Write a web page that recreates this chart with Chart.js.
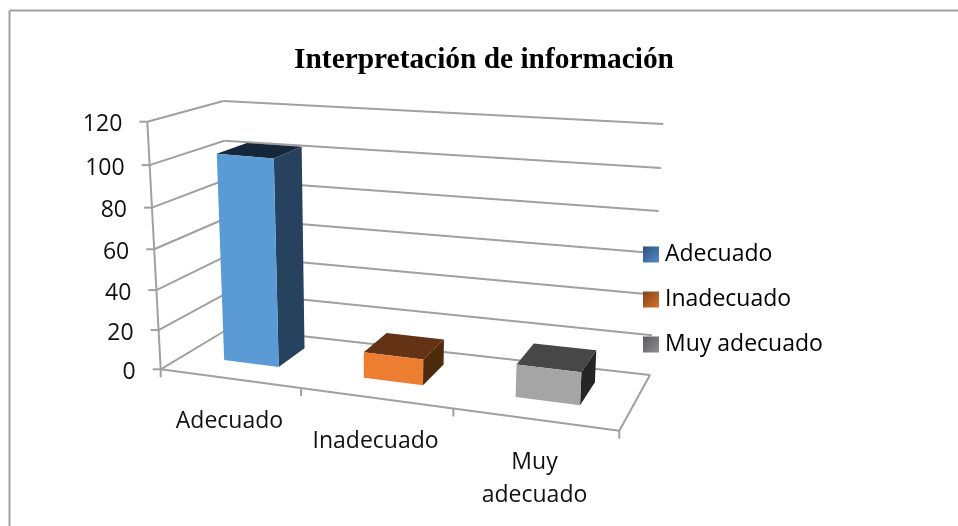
<!DOCTYPE html>
<html>
<head>
<meta charset="utf-8">
<script src="https://cdn.jsdelivr.net/npm/chart.js@4"></script>
<style>
    html, body { margin: 0; padding: 0; background: #fff; }
    canvas { display: block; }
</style>
</head>
<body>
<canvas id="chart3d" width="958" height="526"></canvas>
<script>
// Values
var categories = ["Adecuado", "Inadecuado", ["Muy", "adecuado"]];
var legendNames = ["Adecuado", "Inadecuado", "Muy adecuado"];
var values = [103, 13, 16];
var yTicksMax = 120;
var yTicksStep = 20;
var chartTitle = "Interpretación de información";

// Bar colours: front, side, top, and legend gradient ends
var frontColors = ["#5b9bd5", "#ed7d31", "#a5a5a5"];
var sideColors = ["#27425f", "#4f2b0e", "#252525"];
var topColors = ["#15273a", "#643214", "#474747"];
var legendDark = ["#2b4f78", "#7f4219", "#55555c"];
var legendLight = ["#4f88c4", "#d0702c", "#8d8d92"];
var legendBoxY = [246, 291, 336];
var legendBoxX = 642;

// The 3D box as seen on screen (front/back, left/right, bottom/top)
var view = {
    flb: [160.7, 369.3], frb: [619.3, 430.7], blb: [229.5, 328], brb: [650, 375],
    flt: [147.3, 121.7], frt: [633, 162], blt: [223.3, 101], brt: [663.3, 124]
};
var widthWarp = 1.134;   // foreshortening along the floor
var heightWarp = 1.063;  // foreshortening going up
var barDepthFront = 0.345;
var barDepthBack = 0.77;
var gridColor = "#a0a0a0";
var textFont = '23px "Open Sans"';
var textColor = "#111";

function warp(t, k) {
    return t / (t + k * (1 - t));
}

// u across, v up, w into the picture, all 0..1
function project(u, v, w) {
    var s = warp(u, widthWarp);
    var h = warp(v, heightWarp);
    var out = [];
    for (var i = 0; i < 2; i++) {
        var bottom = (view.flb[i] * (1 - s) + view.frb[i] * s) * (1 - w) + (view.blb[i] * (1 - s) + view.brb[i] * s) * w;
        var top = (view.flt[i] * (1 - s) + view.frt[i] * s) * (1 - w) + (view.blt[i] * (1 - s) + view.brt[i] * s) * w;
        out.push(bottom * (1 - h) + top * h);
    }
    return out;
}

function poly(ctx, points, color) {
    ctx.beginPath();
    ctx.moveTo(points[0][0], points[0][1]);
    for (var i = 1; i < points.length; i++) {
        ctx.lineTo(points[i][0], points[i][1]);
    }
    ctx.closePath();
    ctx.fillStyle = color;
    ctx.fill();
}

function line(ctx, a, b) {
    ctx.beginPath();
    ctx.moveTo(a[0], a[1]);
    ctx.lineTo(b[0], b[1]);
    ctx.stroke();
}

var box3d = {
    id: "box3d",
    // title centres on the whole picture, legend sits beside the walls
    afterLayout: function (chart) {
        chart.titleBlock.right = chart.width;
        chart.legend.top += 34;
        chart.legend.bottom += 34;
    },
    // walls go first so the legend markers cover the ends of the lines
    beforeDraw: function (chart) {
        var ctx = chart.ctx;
        var yScale = chart.scales.y;
        var xScale = chart.scales.x;
        var area = chart.chartArea;

        ctx.save();
        // frame of the picture
        ctx.strokeStyle = gridColor;
        ctx.lineWidth = 2;
        line(ctx, [9.5, 526], [9.5, 10.5]);
        line(ctx, [9.5, 10.5], [958, 10.5]);

        // walls and value ticks
        ctx.font = textFont;
        ctx.fillStyle = textColor;
        ctx.textAlign = "right";
        ctx.textBaseline = "middle";
        yScale.ticks.forEach(function (tick) {
            var v = (area.bottom - yScale.getPixelForValue(tick.value)) / area.height;
            var front = project(0, v, 0);
            line(ctx, front, project(0, v, 1));
            line(ctx, project(0, v, 1), project(1, v, 1));
            line(ctx, [front[0] - 8, front[1]], front);
            ctx.fillText(String(tick.value), front[0] - 25, front[1] + 3);
        });
        line(ctx, project(0, 0, 0), project(0, 1, 0));

        // floor
        line(ctx, project(0, 0, 0), project(1, 0, 0));
        line(ctx, project(1, 0, 0), project(1, 0, 1));

        // category ticks and labels
        var n = categories.length;
        for (var i = 0; i <= n; i++) {
            var p = project(i / n, 0, 0);
            line(ctx, p, [p[0], p[1] + 8]);
        }
        ctx.textAlign = "center";
        categories.forEach(function (cat, index) {
            var u = (xScale.getPixelForValue(index) - area.left) / area.width;
            var p = project(u, 0, 0);
            var lines = Array.isArray(cat) ? cat : [cat];
            lines.forEach(function (text, j) {
                ctx.fillText(text, p[0], p[1] + 43 + j * 33);
            });
        });
        ctx.restore();
    },
    // bars are drawn as boxes from the bar elements the library laid out
    beforeDatasetDraw: function (chart, args) {
        var ctx = chart.ctx;
        var area = chart.chartArea;
        args.meta.data.forEach(function (bar, i) {
            var u0 = (bar.x - bar.width / 2 - area.left) / area.width;
            var u1 = (bar.x + bar.width / 2 - area.left) / area.width;
            var v = (area.bottom - bar.y) / area.height;
            var f = barDepthFront;
            var b = barDepthBack;
            poly(ctx, [project(u0, v, f), project(u1, v, f), project(u1, v, b), project(u0, v, b)], topColors[i]);
            poly(ctx, [project(u1, 0, f), project(u1, v, f), project(u1, v, b), project(u1, 0, b)], sideColors[i]);
            poly(ctx, [project(u0, 0, f), project(u1, 0, f), project(u1, v, f), project(u0, v, f)], frontColors[i]);
        });
        return false;
    }
};

var legendItems = function (chart) {
    return legendNames.map(function (name, i) {
        var grad = chart.ctx.createLinearGradient(legendBoxX, legendBoxY[i], legendBoxX + 16, legendBoxY[i] + 16);
        grad.addColorStop(0, legendDark[i]);
        grad.addColorStop(1, legendLight[i]);
        return { text: name, fillStyle: grad, strokeStyle: "transparent", lineWidth: 0, pointStyle: "rect", index: i };
    });
};

new Chart(document.getElementById("chart3d"), {
    type: "bar",
    data: {
        labels: categories,
        datasets: [{
            data: values,
            backgroundColor: frontColors,
            barPercentage: 0.4,
            categoryPercentage: 1
        }]
    },
    plugins: [box3d],
    options: {
        responsive: false,
        animation: false,
        layout: { padding: { left: 10, right: 126, top: 10, bottom: 5 } },
        scales: {
            x: { grid: { display: false }, border: { display: false }, ticks: { display: false } },
            y: {
                min: 0,
                max: yTicksMax,
                grid: { display: false },
                border: { display: false },
                ticks: { display: false, stepSize: yTicksStep }
            }
        },
        plugins: {
            tooltip: { enabled: false },
            title: {
                display: true,
                text: chartTitle,
                color: "#000",
                font: { family: '"Liberation Serif"', size: 29.4, weight: "bold" },
                padding: { top: 33, bottom: 0 }
            },
            legend: {
                position: "right",
                labels: {
                    generateLabels: legendItems,
                    usePointStyle: true,
                    boxWidth: 5,
                    boxHeight: 16,
                    padding: 22,
                    color: textColor,
                    font: { family: '"Open Sans"', size: 23 }
                }
            }
        }
    }
});
</script>
</body>
</html>
